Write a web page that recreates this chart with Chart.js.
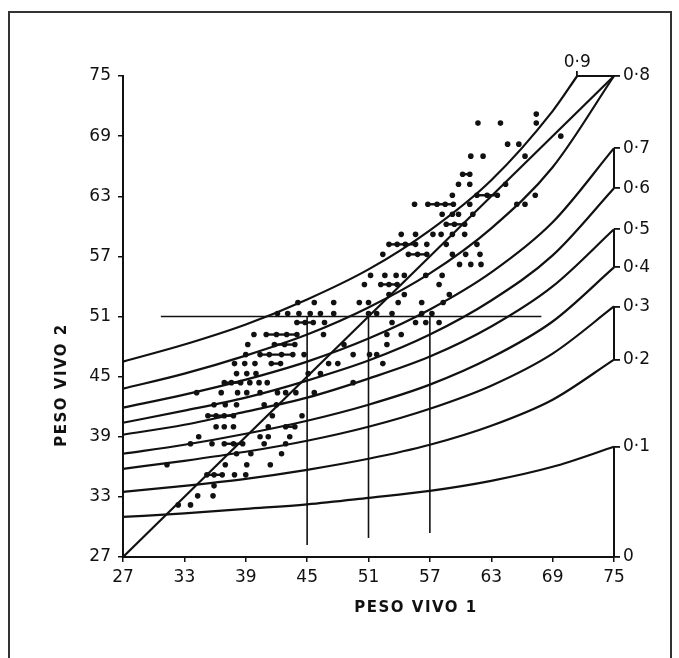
<!DOCTYPE html>
<html>
<head>
<meta charset="utf-8">
<script src="https://cdn.jsdelivr.net/npm/chart.js@4.4.1/dist/chart.umd.min.js"></script>
<style>
  body { margin: 0; background: #fff; }
  #wrap { position: relative; width: 679px; height: 658px; overflow: hidden; }
  #frame { position: absolute; left: 8px; top: 11px; width: 660px; height: 700px; border: 2px solid #333; }
  canvas { position: absolute; left: 0; top: 0; }
</style>
</head>
<body>
<div id="wrap">
  <div id="frame"></div>
  <canvas id="myChart" width="679" height="658"></canvas>
</div>
<script>
// curves: read at x = 27, 33, ..., 75
const curveX = [27, 33, 39, 45, 51, 57, 63, 69, 75];
const curve09X = [27, 33, 39, 45, 51, 57, 63, 69, 71.4];
const curve01 = [31.0, 31.35, 31.8, 32.25, 32.9, 33.6, 34.6, 36.0, 38.0];
const curve02 = [33.5, 34.1, 34.8, 35.7, 36.8, 38.2, 40.1, 42.7, 46.7];
const curve03 = [35.8, 36.6, 37.5, 38.6, 40.0, 41.8, 44.1, 47.3, 52.0];
const curve04 = [37.3, 38.2, 39.3, 40.6, 42.2, 44.2, 46.9, 50.5, 55.9];
const curve05 = [39.2, 40.2, 41.5, 42.9, 44.8, 47.0, 50.0, 54.0, 59.7];
const curve06 = [40.4, 41.6, 42.9, 44.6, 46.6, 49.2, 52.6, 57.1, 63.8];
const curve07 = [41.9, 43.2, 44.7, 46.5, 48.8, 51.7, 55.4, 60.4, 67.8];
const curve08 = [43.8, 45.3, 47.1, 49.2, 51.9, 55.3, 59.8, 65.9, 75.0];
const curve09 = [46.5, 48.2, 50.2, 52.7, 55.7, 59.6, 64.6, 71.5, 75.0];

// right-hand scale (0 .. 0.8) and top label 0.9
const rightTicks = [27, 38.0, 46.7, 52.0, 55.9, 59.7, 63.8, 67.8, 75];
const rightLabels = ['0', '0·1', '0·2', '0·3', '0·4', '0·5', '0·6', '0·7', '0·8'];
const topTicks = [71.4];
const topLabels = ['0·9'];

// reference lines
const cutLevel = 51;
const cutFrom = 30.7, cutTo = 67.9;
const verticalX = [45, 51, 57];
const verticalBottom = [28.2, 28.9, 29.4];

// observations [peso vivo 1, peso vivo 2]
const dots = [
  [67.4, 71.2],
  [61.7, 70.3], [63.9, 70.3], [67.4, 70.3],
  [69.8, 69.0],
  [64.6, 68.2], [65.7, 68.2],
  [61.0, 67.0], [62.2, 67.0], [66.3, 67.0],
  [60.2, 65.2], [60.9, 65.2],
  [59.8, 64.2], [60.9, 64.2], [64.4, 64.2],
  [59.2, 63.1], [61.6, 63.1], [62.6, 63.1], [63.6, 63.1], [67.3, 63.1],
  [55.5, 62.2], [56.8, 62.2], [57.7, 62.2], [58.5, 62.2], [59.3, 62.2], [60.9, 62.2], [65.5, 62.2], [66.3, 62.2],
  [58.2, 61.2], [59.2, 61.2], [59.8, 61.2], [61.2, 61.2],
  [58.6, 60.2], [59.4, 60.2], [60.4, 60.2],
  [54.2, 59.2], [55.6, 59.2], [57.3, 59.2], [58.1, 59.2], [59.2, 59.2], [60.4, 59.2],
  [53.0, 58.2], [53.8, 58.2], [54.6, 58.2], [55.6, 58.2], [56.7, 58.2], [58.6, 58.2], [61.6, 58.2],
  [52.4, 57.2], [54.9, 57.2], [55.8, 57.2], [56.7, 57.2], [59.2, 57.2], [60.5, 57.2], [61.9, 57.2],
  [59.9, 56.2], [61.0, 56.2], [62.0, 56.2],
  [51.2, 55.1], [52.6, 55.1], [53.7, 55.1], [54.5, 55.1], [56.6, 55.1], [58.2, 55.1],
  [50.6, 54.2], [52.2, 54.2], [53.0, 54.2], [53.8, 54.2], [57.9, 54.2],
  [53.0, 53.2], [54.5, 53.2], [58.9, 53.2],
  [44.1, 52.4], [45.7, 52.4], [47.6, 52.4], [50.1, 52.4], [51.0, 52.4], [53.9, 52.4], [56.2, 52.4], [58.3, 52.4],
  [42.1, 51.3], [43.1, 51.3], [44.2, 51.3], [45.3, 51.3], [46.3, 51.3], [47.6, 51.3], [51.0, 51.3], [51.8, 51.3], [53.3, 51.3], [56.2, 51.3], [57.2, 51.3],
  [44.0, 50.4], [44.8, 50.4], [45.6, 50.4], [46.7, 50.4], [53.3, 50.4], [55.6, 50.4], [56.6, 50.4], [57.9, 50.4],
  [39.8, 49.2], [41.0, 49.2], [42.0, 49.2], [43.0, 49.2], [44.0, 49.2], [46.6, 49.2], [52.8, 49.2], [54.2, 49.2],
  [39.2, 48.2], [41.8, 48.2], [42.8, 48.2], [43.8, 48.2], [48.6, 48.2], [52.8, 48.2],
  [39.0, 47.2], [40.4, 47.2], [41.3, 47.2], [42.5, 47.2], [43.6, 47.2], [44.7, 47.2], [49.5, 47.2], [51.1, 47.2], [51.8, 47.2],
  [37.9, 46.3], [38.9, 46.3], [39.9, 46.3], [41.5, 46.3], [42.4, 46.3], [47.1, 46.3], [48.0, 46.3], [52.4, 46.3],
  [38.1, 45.3], [39.1, 45.3], [40.0, 45.3], [45.1, 45.3], [46.3, 45.3],
  [36.9, 44.4], [37.6, 44.4], [38.5, 44.4], [39.4, 44.4], [40.3, 44.4], [41.1, 44.4], [49.5, 44.4],
  [34.2, 43.4], [36.6, 43.4], [38.2, 43.4], [39.1, 43.4], [40.4, 43.4], [42.1, 43.4], [42.9, 43.4], [43.9, 43.4], [45.7, 43.4],
  [35.9, 42.2], [37.0, 42.2], [38.1, 42.2], [40.8, 42.2], [42.0, 42.2],
  [35.3, 41.1], [36.1, 41.1], [36.9, 41.1], [37.8, 41.1], [41.6, 41.1], [44.5, 41.1],
  [36.1, 40.0], [36.9, 40.0], [37.8, 40.0], [41.2, 40.0], [42.9, 40.0], [43.8, 40.0],
  [34.4, 39.0], [40.4, 39.0], [41.2, 39.0], [43.3, 39.0],
  [33.6, 38.3], [35.7, 38.3], [36.9, 38.3], [37.8, 38.3], [38.7, 38.3], [40.8, 38.3], [42.9, 38.3],
  [38.1, 37.3], [39.5, 37.3], [42.5, 37.3],
  [31.3, 36.2], [37.0, 36.2], [39.1, 36.2], [41.4, 36.2],
  [35.2, 35.2], [35.9, 35.2], [36.7, 35.2], [37.9, 35.2], [39.0, 35.2],
  [35.9, 34.1],
  [34.3, 33.1], [35.8, 33.1],
  [32.4, 32.2], [33.6, 32.2]
];

// short dashes tying neighbouring observations [from, to, level]
const ties = [
  [60.2, 60.9, 65.2], [61.6, 63.6, 63.1], [56.8, 59.3, 62.2], [58.6, 60.4, 60.2],
  [53.0, 55.6, 58.2], [54.9, 56.7, 57.2], [52.2, 53.8, 54.2], [44.0, 45.6, 50.4],
  [41.0, 44.0, 49.2], [41.8, 43.8, 48.2], [40.4, 43.6, 47.2], [41.5, 42.4, 46.3],
  [36.9, 38.5, 44.4], [35.3, 37.8, 41.1], [42.9, 43.8, 40.0], [36.9, 38.7, 38.3],
  [35.2, 36.7, 35.2]
];

const ink = '#111';
const fontFamily = '"DejaVu Sans", "Liberation Sans", sans-serif';

function curve(xs, ys) {
  return {
    data: xs.map((x, i) => ({ x: x, y: ys[i] })),
    showLine: true,
    borderColor: ink,
    borderWidth: 2.2,
    pointRadius: 0,
    cubicInterpolationMode: 'monotone',
    clip: 4
  };
}

function segment(points, width) {
  return {
    data: points.map(p => ({ x: p[0], y: p[1] })),
    showLine: true,
    borderColor: ink,
    borderWidth: width,
    pointRadius: 0,
    tension: 0,
    clip: 4
  };
}

const datasets = [
  curve(curveX, curve01),
  curve(curveX, curve02),
  curve(curveX, curve03),
  curve(curveX, curve04),
  curve(curveX, curve05),
  curve(curveX, curve06),
  curve(curveX, curve07),
  curve(curveX, curve08),
  curve(curve09X, curve09),
  segment([[27, 27], [75, 75]], 2.2),
  segment([[cutFrom, cutLevel], [cutTo, cutLevel]], 1.6),
  segment([[topTicks[0], 75], [75, 75]], 1.8),
  segment([[75, rightTicks[0]], [75, rightTicks[1]]], 2),
  segment([[75, rightTicks[2]], [75, rightTicks[3]]], 2),
  segment([[75, rightTicks[4]], [75, rightTicks[5]]], 2),
  segment([[75, rightTicks[6]], [75, rightTicks[7]]], 2)
];
verticalX.forEach((vx, i) => {
  datasets.push(segment([[vx, verticalBottom[i]], [vx, cutLevel]], 1.6));
});
ties.forEach(t => {
  datasets.push(segment([[t[0], t[2]], [t[1], t[2]]], 2.4));
});
datasets.push({
  data: dots.map(d => ({ x: d[0], y: d[1] })),
  pointRadius: 2.8,
  pointBackgroundColor: ink,
  pointBorderWidth: 0,
  clip: 4
});

// axis titles sit off-centre in the original figure
const titles = {
  id: 'titles',
  afterDraw(chart) {
    const ctx = chart.ctx;
    ctx.save();
    ctx.fillStyle = ink;
    ctx.font = 'bold 15px ' + fontFamily;
    ctx.letterSpacing = '1.5px';
    ctx.textAlign = 'center';
    ctx.textBaseline = 'middle';
    ctx.fillText('PESO VIVO 1', 416, 608);
    ctx.translate(62, 385);
    ctx.rotate(-Math.PI / 2);
    ctx.fillText('PESO VIVO 2', 0, 0);
    ctx.restore();
  }
};

const tickFont = { family: fontFamily, size: 17 };

new Chart(document.getElementById('myChart').getContext('2d'), {
  type: 'scatter',
  data: { datasets: datasets },
  plugins: [titles],
  options: {
    responsive: false,
    animation: false,
    layout: { padding: 0 },
    plugins: { legend: { display: false }, tooltip: { enabled: false } },
    scales: {
      x: {
        type: 'linear', position: 'bottom', min: 27, max: 75,
        ticks: { stepSize: 6, color: ink, font: tickFont, padding: 5, maxRotation: 0 },
        grid: { drawOnChartArea: false, tickLength: 5, color: ink, lineWidth: 1.5 },
        border: { display: true, color: ink, width: 2 },
        afterFit(s) { s.height = 101; }
      },
      x2: {
        type: 'linear', position: 'top', min: 27, max: 75,
        afterBuildTicks(s) { s.ticks = topTicks.map(v => ({ value: v })); },
        ticks: { color: ink, font: tickFont, padding: -2, autoSkip: false, maxRotation: 0,
                 callback: (v, i) => topLabels[i] },
        grid: { drawOnChartArea: false, tickLength: 5, color: ink, lineWidth: 1.8 },
        border: { display: false },
        afterFit(s) { s.height = 76; }
      },
      y: {
        type: 'linear', position: 'left', min: 27, max: 75,
        ticks: { stepSize: 6, color: ink, font: tickFont, padding: 7 },
        grid: { drawOnChartArea: false, tickLength: 5, color: ink, lineWidth: 1.5 },
        border: { display: true, color: ink, width: 2 },
        afterFit(s) { s.width = 123; }
      },
      y2: {
        type: 'linear', position: 'right', min: 27, max: 75,
        afterBuildTicks(s) { s.ticks = rightTicks.map(v => ({ value: v })); },
        ticks: { color: ink, font: tickFont, padding: 3, autoSkip: false,
                 callback: (v, i) => rightLabels[i] },
        grid: { drawOnChartArea: false, tickLength: 6, color: ink, lineWidth: 1.8 },
        border: { display: false },
        afterFit(s) { s.width = 65; }
      }
    }
  }
});
</script>
</body>
</html>
